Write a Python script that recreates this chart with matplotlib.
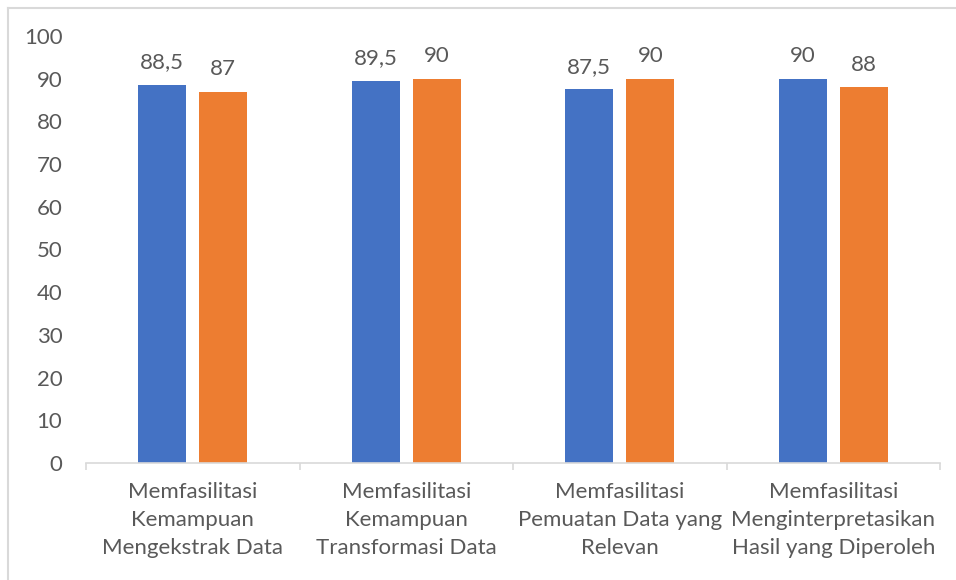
import matplotlib
matplotlib.use("Agg")
import matplotlib.pyplot as plt
import numpy as np

categories = ["Memfasilitasi\nKemampuan\nMengekstrak Data",
              "Memfasilitasi\nKemampuan\nTransformasi Data",
              "Memfasilitasi\nPemuatan Data yang\nRelevan",
              "Memfasilitasi\nMenginterpretasikan\nHasil yang Diperoleh"]
series_blue = [88.5, 89.5, 87.5, 90]
series_orange = [87, 90, 90, 88]
yticks = [0, 10, 20, 30, 40, 50, 60, 70, 80, 90, 100]

plt.rcParams['font.family'] = ['Lato', 'DejaVu Sans']
text_color = "#595959"
line_color = "#D9D9D9"
fs = 16

fig = plt.figure(figsize=(9.56, 5.8), dpi=100)
ax = fig.add_axes([86/956, 1-463/580, (940-86)/956, (463-36)/580])

x = np.arange(len(categories))
w = 0.225
off = 0.143
b1 = ax.bar(x - off, series_blue, w, color="#4472C4")
b2 = ax.bar(x + off, series_orange, w, color="#ED7D31")

def fmt(v):
    return ("%g" % v).replace(".", ",")

for bars, vals in ((b1, series_blue), (b2, series_orange)):
    for r, v in zip(bars, vals):
        ax.annotate(fmt(v), (r.get_x() + r.get_width()/2, v),
                    xytext=(0, 12), textcoords="offset points",
                    ha="center", va="baseline", fontsize=fs, color=text_color)

ax.set_xlim(-0.5, len(categories) - 0.5)
ax.set_ylim(0, 100)
ax.set_yticks(yticks)
ax.set_yticklabels([str(t) for t in yticks])
ax.set_xticks(x)
ax.set_xticklabels(categories, linespacing=1.5)
ax.set_xticks(np.arange(len(categories) + 1) - 0.5, minor=True)

for s in ("top", "right", "left"):
    ax.spines[s].set_visible(False)
ax.spines["bottom"].set_color(line_color)
ax.spines["bottom"].set_linewidth(1.2)

ax.tick_params(axis="y", length=0, pad=17, labelsize=fs, labelcolor=text_color)
ax.tick_params(axis="x", which="major", length=0, pad=14, labelsize=fs, labelcolor=text_color)
ax.tick_params(axis="x", which="minor", length=5, width=1.2, color=line_color)

# chart border (top and left visible)
fig.add_artist(plt.Line2D([8/956, 8/956], [0, 1-8/580], transform=fig.transFigure, color=line_color, lw=1.5))
fig.add_artist(plt.Line2D([8/956, 1], [1-8/580, 1-8/580], transform=fig.transFigure, color=line_color, lw=1.5))

fig.savefig("out.png", dpi=100)
